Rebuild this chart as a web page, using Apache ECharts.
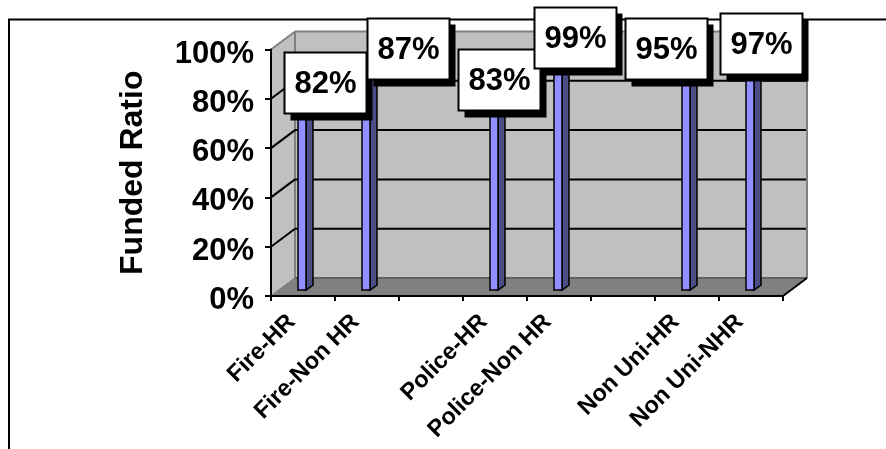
<!DOCTYPE html>
<html>
<head>
<meta charset="utf-8">
<style>html,body{margin:0;padding:0;background:#fff}#chart{width:886px;height:449px}</style>
<script src="https://cdn.jsdelivr.net/npm/echarts@6/dist/echarts.min.js"></script>
</head>
<body>
<div id="chart"></div>
<script>
// Funded ratio by employee group; blank categories separate the three groups.
const categories = ['Fire-HR', 'Fire-Non HR', '', 'Police-HR', 'Police-Non HR', '', 'Non Uni-HR', 'Non Uni-NHR'];
const fundedRatio = [82, 87, null, 83, 99, null, 95, 97];
const yTicks = [0, 20, 40, 60, 80, 100];
const yAxisTitle = 'Funded Ratio';
// Callout displacement of each value box from the top of its column.
const calloutOffsets = [[22, -5], [41, -27], null, [4, -6], [16, -8], null, [-21, -7], [10, -7]];

const FONT = '"Liberation Sans", Arial, sans-serif';
const DEPTH_X = 24, DEPTH_Y = -18;          // oblique offset of the back wall
const COL_SHIFT_X = -5, COL_SHIFT_Y = -6;   // columns stand inside the floor
const COL_W = 8, COL_SIDE_X = 7, COL_SIDE_Y = -5;
const BOX_W = 82, BOX_H = 61, SHADOW = 6;

const poly = (points, fill, stroke, lineWidth) => ({
  type: 'polygon',
  shape: { points },
  style: { fill, stroke: stroke || 'none', lineWidth: lineWidth || 0 }
});
const line = (x1, y1, x2, y2, stroke, lineWidth) => ({
  type: 'line',
  shape: { x1, y1, x2, y2 },
  style: { stroke, lineWidth }
});

// Back wall, side wall and floor of the oblique box.
function renderRoom(params, api) {
  const r = params.coordSys;
  const l = r.x, t = r.y, b = r.y + r.height, e = r.x + r.width;
  const dx = DEPTH_X, dy = DEPTH_Y;
  return {
    type: 'group',
    children: [
      poly([[l + dx, t + dy], [e + dx, t + dy], [e + dx, b + dy], [l + dx, b + dy]], '#C0C0C0'),
      poly([[l, t], [l + dx, t + dy], [l + dx, b + dy], [l, b]], '#C0C0C0'),
      poly([[l, b], [e, b], [e + dx, b + dy], [l + dx, b + dy]], '#808080'),
      line(l, t, l + dx, t + dy, '#808080', 2),
      line(l + dx, t + dy, e + dx, t + dy, '#808080', 2),
      line(l + dx, t + dy, l + dx, b + dy, '#808080', 2),
      line(e + dx, t + dy, e + dx, b + dy, '#808080', 2),
      line(l + dx, b + dy, e + dx, b + dy, '#606060', 2),
      line(l, b, l + dx, b + dy, '#808080', 1.5),
      line(e, b, e + dx, b + dy, '#000', 2)
    ]
  };
}

// One gridline per tick: diagonal over the side wall, then across the back wall.
function renderGridline(params, api) {
  const r = params.coordSys;
  const y = api.coord([0, api.value(1)])[1];
  return {
    type: 'group',
    children: [
      line(r.x, y, r.x + DEPTH_X, y + DEPTH_Y, '#000', 2),
      line(r.x + DEPTH_X, y + DEPTH_Y, r.x + r.width + DEPTH_X - 1, y + DEPTH_Y, '#000', 2)
    ]
  };
}

// Column with a lit front face and a dark side face.
function renderColumn(params, api) {
  const top = api.coord([api.value(0), api.value(1)]);
  const base = api.coord([api.value(0), 0]);
  const x0 = top[0] + COL_SHIFT_X, x1 = x0 + COL_W;
  const y0 = top[1] + COL_SHIFT_Y, y1 = base[1] + COL_SHIFT_Y;
  const sx = COL_SIDE_X, sy = COL_SIDE_Y;
  return {
    type: 'group',
    children: [
      poly([[x1, y0], [x1 + sx, y0 + sy], [x1 + sx, y1 + sy], [x1, y1]], '#4C4C88', '#000', 1.5),
      poly([[x0, y0], [x0 + sx, y0 + sy], [x1 + sx, y0 + sy], [x1, y0]], '#7070C0', '#000', 1.5),
      poly([[x0, y0], [x1, y0], [x1, y1], [x0, y1]], '#9090FF', '#000', 1.5)
    ]
  };
}

// White value box with a hard black drop shadow.
function renderCallout(params, api) {
  const i = api.value(0), v = api.value(1);
  const p = api.coord([i, v]);
  const off = calloutOffsets[i];
  const cx = p[0] + off[0], cy = p[1] + COL_SHIFT_Y + off[1];
  const x = Math.round(cx - BOX_W / 2) + 0.5, y = Math.round(cy - BOX_H / 2) + 0.5;
  return {
    type: 'group',
    children: [
      { type: 'rect', shape: { x: x + SHADOW, y: y + SHADOW, width: BOX_W, height: BOX_H + 1 }, style: { fill: '#000' } },
      { type: 'rect', shape: { x, y, width: BOX_W, height: BOX_H }, style: { fill: '#fff', stroke: '#000', lineWidth: 2 } },
      { type: 'text', style: { x: x + BOX_W / 2, y: y + BOX_H / 2 + 1, text: v + '%', align: 'center', verticalAlign: 'middle', font: 'bold 31px ' + FONT, fill: '#000' } }
    ]
  };
}

const rows = categories.map((c, i) => [i, fundedRatio[i]]).filter(r => r[1] !== null);

const chart = echarts.init(document.getElementById('chart'), null, { renderer: 'canvas' });
chart.setOption({
  animation: false,
  backgroundColor: '#fff',
  grid: { left: 271, right: 103, top: 49.5, bottom: 153, containLabel: false, outerBoundsMode: 'none' },
  graphic: [{
    type: 'polyline',
    z: 0,
    shape: { points: [[9, 449], [9, 19.5], [886, 19.5]] },
    style: { stroke: '#000', lineWidth: 2, fill: 'none' }
  }],
  xAxis: {
    type: 'category',
    data: categories,
    z: 3,
    axisLine: { show: true, lineStyle: { color: '#000', width: 2 } },
    axisTick: { show: true, alignWithLabel: false, length: 5, lineStyle: { color: '#000', width: 2 } },
    axisLabel: { interval: 0, rotate: 45, margin: 11, padding: [0, 16, 0, 0], color: '#000', fontFamily: FONT, fontWeight: 'bold', fontSize: 23.5 },
    splitLine: { show: false }
  },
  yAxis: {
    type: 'value',
    min: 0,
    max: 100,
    interval: 20,
    z: 3,
    name: yAxisTitle,
    nameLocation: 'middle',
    nameRotate: 90,
    nameGap: 122,
    nameTextStyle: { color: '#000', fontFamily: FONT, fontWeight: 'bold', fontSize: 32 },
    axisLine: { show: true, lineStyle: { color: '#000', width: 2 } },
    axisTick: { show: true, length: 6, lineStyle: { color: '#000', width: 2 } },
    axisLabel: { margin: 17, verticalAlign: 'top', lineHeight: 9, color: '#000', fontFamily: FONT, fontWeight: 'bold', fontSize: 31, formatter: v => v + '%' },
    splitLine: { show: false }
  },
  series: [
    { type: 'custom', z: 1, silent: true, clip: false, renderItem: renderRoom, data: [[0, 0]] },
    { type: 'custom', z: 2, silent: true, clip: false, renderItem: renderGridline, data: yTicks.slice(1, -1).map(t => [0, t]) },
    { type: 'custom', z: 4, silent: true, clip: false, renderItem: renderColumn, data: rows },
    { type: 'custom', z: 5, silent: true, clip: false, renderItem: renderCallout, data: rows }
  ]
});
</script>
</body>
</html>
